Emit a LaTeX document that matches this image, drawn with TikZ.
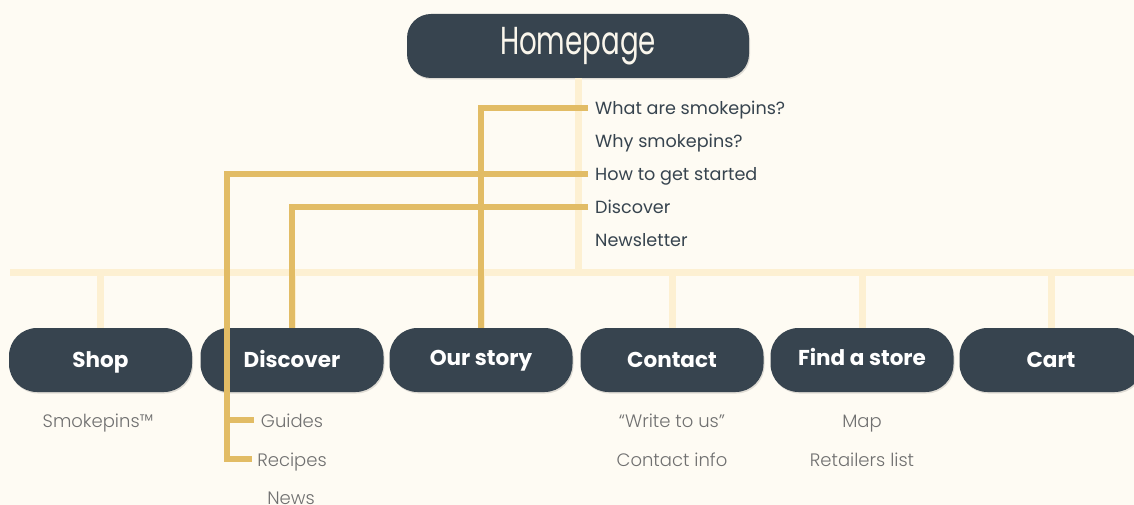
\documentclass[tikz,border=0pt]{standalone}
\usepackage{fontspec}
\usepackage{graphicx}
\setmainfont{Poppins}
\newfontfamily\poplight{Poppins Light}
\usetikzlibrary{shadows}
\definecolor{bg}{HTML}{FEFBF3}
\definecolor{slate}{HTML}{37444F}
\definecolor{cream}{HTML}{FDF0D2}
\definecolor{gold}{HTML}{E2BC65}
\definecolor{greytxt}{HTML}{707070}
\definecolor{titletxt}{HTML}{FAF6EC}
\tikzset{
  pagebox/.style={rectangle, rounded corners=28pt, fill=slate,
    minimum width=183pt, minimum height=64pt, inner sep=0pt, text=white,
    text height=14pt, text depth=0pt,
    font=\bfseries\fontsize{21.5}{21.5}\selectfont,
    drop shadow={shadow xshift=1pt, shadow yshift=-1.5pt, opacity=0.12, fill=black}},
  homebox/.style={pagebox, minimum width=342pt, rounded corners=24pt,
    text height=27pt, text depth=9pt,
    text=titletxt, font=\fontsize{39}{39}\selectfont},
  item/.style={anchor=west, inner sep=0pt, text=slate,
    text height=13pt, text depth=0pt, font=\fontsize{17.6}{17.6}\selectfont},
  subitem/.style={inner sep=0pt, text=greytxt,
    text height=14pt, text depth=0pt, font=\poplight\fontsize{18}{18}\selectfont},
  creamline/.style={cream, line width=7pt},
  goldline/.style={gold, line width=6pt}
}
\begin{document}
\begin{tikzpicture}[x=1pt, y=-1pt]
  \fill[bg] (0,0) rectangle (1134,505);
  \useasboundingbox (0,0) rectangle (1134,505);
  \clip (0,0) rectangle (1134,505);

  % top-level page and its in-page sections
  \node[homebox] (home) at (578,46) {\scalebox{0.71}[1]{Homepage}};
  \node[item] (q1) at (595,108.5) {What are smokepins?};
  \node[item] (q2) at (595,141.5) {Why smokepins?};
  \node[item] (q3) at (595,174.5) {How to get started};
  \node[item] (q4) at (595,207) {Discover};
  \node[item] (q5) at (595,240) {Newsletter};

  % menu bar and its branches
  \coordinate (barL) at (10,272);
  \coordinate (barR) at (1140,272);
  \coordinate (spine) at (227,0);

  \path (100.5,360) coordinate (cShop) (292,360) coordinate (cDisc)
        (481,360) coordinate (cStory) (672,360) coordinate (cContact)
        (862,360) coordinate (cStore) (1051,360) coordinate (cCart);

  \draw[creamline] (home.south) -- (home.south |- barL);
  \draw[creamline] (barL) -- (barR);
  \foreach \c in {cShop,cDisc,cStory,cContact,cStore,cCart}
    \draw[creamline] (\c |- barL) -- ([yshift=-30pt]\c);

  % links from the homepage sections that run under the menu boxes
  \draw[goldline] ([xshift=-7pt]q1.west) -| ([yshift=-30pt]cStory);
  \draw[goldline] ([xshift=-7pt]q4.west) -| ([yshift=-30pt]cDisc);

  % main menu
  \node[pagebox] (shop) at (cShop) {Shop};
  \node[pagebox] (disc) at (cDisc) {Discover};
  \node[pagebox] (story) at (cStory) {\raisebox{1.5pt}{Our story}};
  \node[pagebox] (contact) at (cContact) {Contact};
  \node[pagebox] (store) at (cStore) {\raisebox{1.5pt}{Find a store}};
  \node[pagebox] (cart) at (cCart) {Cart};

  % sub pages
  \node[subitem] (s1) at (98,420) {Smokepins™};
  \node[subitem] (g1) at (292,420) {Guides};
  \node[subitem] (g2) at (292,459) {Recipes};
  \node[subitem] (g3) at (291,497) {News};
  \node[subitem] (c1) at (672,420) {“Write to us”};
  \node[subitem] (c2) at (672,459) {Contact info};
  \node[subitem] (m1) at (862,420) {Map};
  \node[subitem] (m2) at (862,459) {Retailers list};

  % link from "How to get started" drawn over the Discover box
  \draw[goldline] ([xshift=-7pt]q3.west) -| (g2.west -| spine) -- ([xshift=-5pt]g2.west);
  \draw[goldline] (g1.west -| spine) -- ([xshift=-7pt]g1.west);
\end{tikzpicture}
\end{document}
